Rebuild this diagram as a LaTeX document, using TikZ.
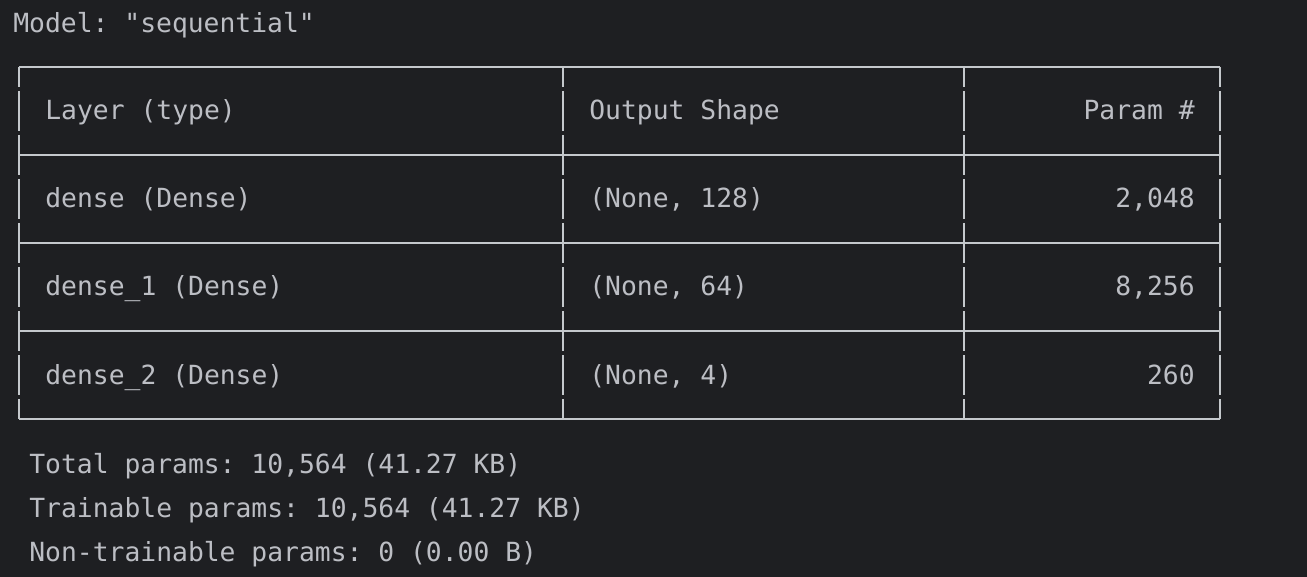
\documentclass[tikz,border=0pt]{standalone}
\usepackage{fontspec}
\setmonofont{DejaVu Sans Mono}
\usepackage{tikz}
\usetikzlibrary{positioning}
\definecolor{termbg}{HTML}{1E1F22}
\definecolor{termfg}{HTML}{BCBEC4}
\definecolor{termrule}{HTML}{C4C8CC}
\begin{document}
\begin{tikzpicture}[x=0.02cm,y=-0.02cm,
  txt/.style = {inner sep=0pt,text=termfg,anchor=base west,
        font=\ttfamily\fontsize{15}{18}\selectfont},
  num/.style = {txt,anchor=base east},
  rule/.style = {draw=termrule,line width=1.1pt}]
 \fill[termbg] (0,0) rectangle (1307,577);
 \useasboundingbox (0,0) rectangle (1307,577);
 \node[txt] (model) at (13,33) {Model: "sequential"};
 % table rules
 \foreach \y in {67,155,243,331,419}
  \draw[rule] (19,\y) -- (1220,\y);
 \foreach \x in {19,563,964,1220}{
  \draw[rule] (\x,67) -- (\x,87);
  \foreach \y in {91,135,179,223,267,311,355}
   \draw[rule] (\x,\y) -- (\x,\y+40);
  \draw[rule] (\x,399) -- (\x,419);
 }
 % header
 \node[txt] (h1) at (45,120) {Layer (type)};
 \node[txt] (h2) at (589,120) {Output Shape};
 \node[num] (h3) at (1195,120) {Param \#};
 % layers
 \node[txt] (l1) at (45,208) {dense (Dense)};
 \node[txt] (s1) at (589,208) {(None, 128)};
 \node[num] (p1) at (1195,208) {2,048};
 \node[txt] (l2) at (45,296) {dense\_1 (Dense)};
 \node[txt] (s2) at (589,296) {(None, 64)};
 \node[num] (p2) at (1195,296) {8,256};
 \node[txt] (l3) at (45,384) {dense\_2 (Dense)};
 \node[txt] (s3) at (589,384) {(None, 4)};
 \node[num] (p3) at (1195,384) {260};
 % summary
 \node[txt] (tot) at (29,473) {Total params: 10,564 (41.27 KB)};
 \node[txt] (trn) at (29,517) {Trainable params: 10,564 (41.27 KB)};
 \node[txt] (non) at (29,561) {Non-trainable params: 0 (0.00 B)};
\end{tikzpicture}
\end{document}
